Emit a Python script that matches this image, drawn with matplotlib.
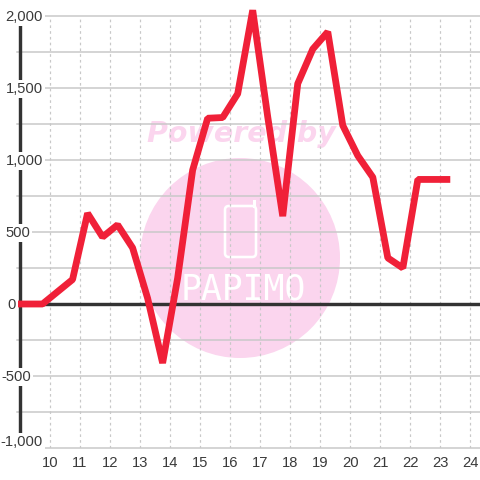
import matplotlib
matplotlib.use("Agg")
import matplotlib.pyplot as plt
from matplotlib.patches import Circle, FancyBboxPatch, Rectangle

plt.rcParams['font.family'] = ['Liberation Sans', 'DejaVu Sans']

hours = [8.9, 9.75, 10.75, 11.25, 11.75, 12.25, 12.75, 13.25, 13.75, 14.25, 14.75,
         15.25, 15.75, 16.25, 16.75, 17.25, 17.75, 18.25, 18.75, 19.25, 19.75,
         20.25, 20.75, 21.25, 21.75, 22.25, 22.75, 23.33]
values = [0, 0, 170, 630, 465, 550, 390, 40, -410, 180, 930,
          1290, 1295, 1460, 2040, 1300, 610, 1530, 1770, 1890, 1240,
          1030, 880, 320, 250, 865, 865, 865]
x_ticks = list(range(10, 25))
y_major = [2000, 1500, 1000, 500, 0, -500, -1000]
y_labels = ['2,000', '1,500', '1,000', '500', '0', '-500', '-1,000']
y_minor = [1750, 1250, 750, 250, -250, -750]

W = 480
fig = plt.figure(figsize=(4.8, 4.8), dpi=100, facecolor='white')
L, R, T, B = 17, 480, 16, 448
ax = fig.add_axes([L / W, 1 - B / W, (R - L) / W, (B - T) / W])
ax.set_xlim(8.9, 24.32)
ax.set_ylim(-1000, 2000)
ax.patch.set_alpha(0)
for s in ax.spines.values():
    s.set_visible(False)

px = 0.72
GRID = '#c8c8c8'
TXT = '#3a3a3a'

def P(x, y):
    return x / W, 1 - y / W

fig.patches.append(Circle(P(240, 258), 100 / W, transform=fig.transFigure,
                          facecolor='#fbd5ee', edgecolor='none', zorder=-5))
fig.patches.append(FancyBboxPatch(P(225, 257), 31 / W, 51 / W,
                                  boxstyle='round,pad=0,rounding_size=0.008',
                                  transform=fig.transFigure, facecolor='none',
                                  edgecolor='white', linewidth=2.6 * px, zorder=-4))
fig.patches.append(Rectangle(P(253.5, 208), 3 / W, 8.5 / W, transform=fig.transFigure,
                             facecolor='white', edgecolor='none', zorder=-4))
fig.text(*P(241, 134), 'Powered by', color='#fbd5ee', fontsize=20.5, fontweight='bold',
         fontstyle='italic', family='DejaVu Sans', ha='center', va='center', zorder=-4)
fig.text(*P(243, 290), 'PAPIMO', color='white', fontsize=25, family='DejaVu Sans Mono',
         ha='center', va='center', zorder=-4)

for v in y_major + y_minor:
    ax.axhline(v, color=GRID, lw=1.5 * px, zorder=1, clip_on=False)
for x in x_ticks:
    ax.axvline(x, color=GRID, lw=1.2 * px, ls=(0, (2.2, 2.6)), zorder=1)

ax.axvline(9, color='#333333', lw=3.4 * px, ymin=0.004, ymax=0.982, zorder=2)
ax.axhline(0, color='#333333', lw=3.4 * px, zorder=2)

ax.plot(hours, values, color='#f02038', lw=6.8 * px, solid_joinstyle='bevel',
        solid_capstyle='butt', zorder=4, clip_on=False)

ax.set_xticks(x_ticks)
ax.set_yticks([])
ax.tick_params(axis='x', length=0, pad=5.5, labelsize=10.6, labelcolor=TXT)

right_edges = [43, 43, 43, 30, 16, 31, 43]
centers = [17, 89, 161, 233, 305, 377, 442]
for lab, r, c in zip(y_labels, right_edges, centers):
    fig.text(*P(r, c), lab, fontsize=10.6, color=TXT, ha='right', va='center', zorder=6,
             bbox=dict(facecolor='white', edgecolor='none', pad=1.2))

fig.savefig('out.png', dpi=100)
